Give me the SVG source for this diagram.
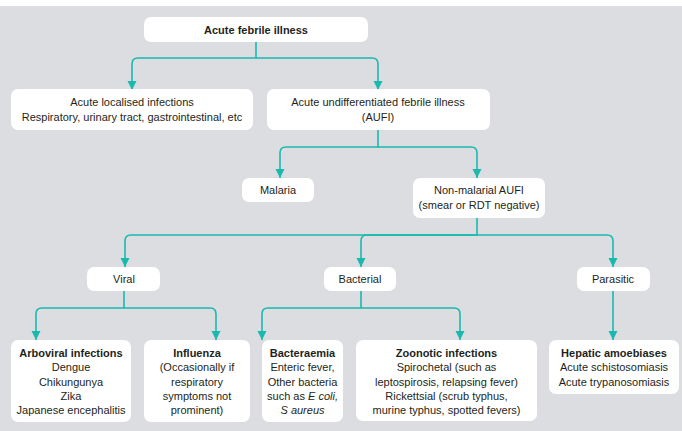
<svg xmlns="http://www.w3.org/2000/svg" width="682" height="431" viewBox="0 0 682 431">
<style>
.box{fill:#ffffff;}
.t{font-family:"Liberation Sans",Arial,sans-serif;font-size:11px;fill:#231f20;text-anchor:middle;}
.b{font-weight:bold;}
.i{font-style:italic;}
.c{fill:none;stroke:#1ab9ae;stroke-width:1.6;marker-end:url(#ah);}
.s{fill:none;stroke:#1ab9ae;stroke-width:1.6;}
</style>
<defs>
<marker id="ah" markerUnits="userSpaceOnUse" markerWidth="10" markerHeight="10" viewBox="0 0 10 10" refX="9" refY="5" orient="auto">
<path d="M0,0.5 L9,5 L0,9.5 z" fill="#1ab9ae"/>
</marker>
</defs>
<rect x="0" y="0" width="682" height="431" fill="#ffffff"/>
<rect x="0" y="6" width="682" height="425" fill="#dcdde1"/>

<g id="connectors">
<path class="c" d="M256,42 V58 H138 Q132,58 132,64 V90"/>
<path class="c" d="M256,58 H372 Q378,58 378,64 V90"/>
<path class="c" d="M378,130 V147 H286 Q280,147 280,153 V178"/>
<path class="c" d="M378,147 H471 Q477,147 477,153 V178"/>
<path class="c" d="M477,218 V235 H131 Q125,235 125,241 V267"/>
<path class="c" d="M477,235 H367 Q361,235 361,241 V267"/>
<path class="c" d="M477,235 H607 Q613,235 613,241 V267"/>
<path class="c" d="M124,291 V308 H42 Q36,308 36,314 V340"/>
<path class="c" d="M124,308 H210 Q216,308 216,314 V340"/>
<path class="c" d="M361,291 V308 H268 Q262,308 262,314 V340"/>
<path class="c" d="M361,308 H454 Q460,308 460,314 V340"/>
<path class="c" d="M613,291 V340"/>
</g>

<g id="n-acute">
<rect class="box" x="144" y="17" width="224" height="25" rx="7"/>
<text class="t b" x="256" y="34">Acute febrile illness</text>
</g>
<g id="n-localised">
<rect class="box" x="11" y="89" width="242" height="41" rx="7"/>
<text class="t" x="132" y="106">Acute localised infections</text>
<text class="t" x="132" y="121">Respiratory, urinary tract, gastrointestinal, etc</text>
</g>
<g id="n-aufi">
<rect class="box" x="267" y="89" width="223" height="41" rx="7"/>
<text class="t" x="378" y="106">Acute undifferentiated febrile illness</text>
<text class="t" x="378" y="121">(AUFI)</text>
</g>
<g id="n-malaria">
<rect class="box" x="242" y="178" width="72" height="24" rx="7"/>
<text class="t" x="278" y="194">Malaria</text>
</g>
<g id="n-nonmalarial">
<rect class="box" x="413" y="178" width="132" height="40" rx="7"/>
<text class="t" x="479" y="194">Non-malarial AUFI</text>
<text class="t" x="479" y="209">(smear or RDT negative)</text>
</g>
<g id="n-viral">
<rect class="box" x="87" y="267" width="73" height="24" rx="7"/>
<text class="t" x="124" y="283">Viral</text>
</g>
<g id="n-bacterial">
<rect class="box" x="324" y="267" width="72" height="24" rx="7"/>
<text class="t" x="360" y="283">Bacterial</text>
</g>
<g id="n-parasitic">
<rect class="box" x="577" y="267" width="73" height="24" rx="7"/>
<text class="t" x="613" y="283">Parasitic</text>
</g>
<g id="n-arboviral">
<rect class="box" x="11" y="340" width="120" height="82" rx="7"/>
<text class="t b" x="71" y="357">Arboviral infections</text>
<text class="t" x="71" y="371">Dengue</text>
<text class="t" x="71" y="385.5">Chikungunya</text>
<text class="t" x="71" y="400">Zika</text>
<text class="t" x="71" y="414">Japanese encephalitis</text>
</g>
<g id="n-influenza">
<rect class="box" x="144" y="340" width="106" height="82" rx="7"/>
<text class="t b" x="197" y="357">Influenza</text>
<text class="t" x="197" y="371">(Occasionally if</text>
<text class="t" x="197" y="385.5">respiratory</text>
<text class="t" x="197" y="400">symptoms not</text>
<text class="t" x="197" y="414">prominent)</text>
</g>
<g id="n-bacteraemia">
<rect class="box" x="262" y="340" width="81" height="82" rx="7"/>
<text class="t b" x="302.5" y="357">Bacteraemia</text>
<text class="t" x="302.5" y="371">Enteric fever,</text>
<text class="t" x="302.5" y="385.5">Other bacteria</text>
<text class="t" x="302.5" y="400">such as <tspan class="i">E coli,</tspan></text>
<text class="t i" x="302.5" y="414">S aureus</text>
</g>
<g id="n-zoonotic">
<rect class="box" x="356" y="340" width="181" height="81" rx="7"/>
<text class="t b" x="446.5" y="357">Zoonotic infections</text>
<text class="t" x="446.5" y="371">Spirochetal (such as</text>
<text class="t" x="446.5" y="385.5">leptospirosis, relapsing fever)</text>
<text class="t" x="446.5" y="400">Rickettsial (scrub typhus,</text>
<text class="t" x="446.5" y="414">murine typhus, spotted fevers)</text>
</g>
<g id="n-hepatic">
<rect class="box" x="549" y="340" width="130" height="54" rx="7"/>
<text class="t b" x="614" y="357">Hepatic amoebiases</text>
<text class="t" x="614" y="371">Acute schistosomiasis</text>
<text class="t" x="614" y="385.5">Acute trypanosomiasis</text>
</g>
</svg>
